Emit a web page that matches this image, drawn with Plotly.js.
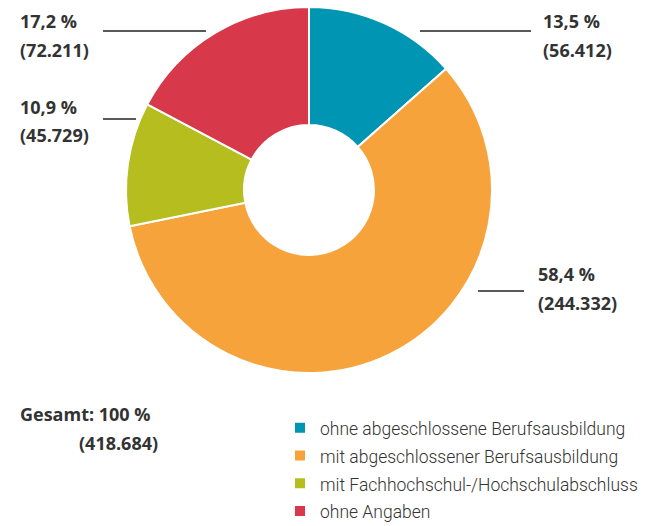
<!DOCTYPE html>
<html><head><meta charset="utf-8">
<script src="https://cdn.plot.ly/plotly-3.0.1.min.js"></script>
<style>html,body{margin:0;padding:0;background:#fff}#chart{width:645px;height:526px}</style>
</head><body><div id="chart"></div>
<script>
const categories = ["ohne abgeschlossene Berufsausbildung","mit abgeschlossener Berufsausbildung","mit Fachhochschul-/Hochschulabschluss","ohne Angaben"];
const counts = [56412, 244332, 45729, 72211];
const percents = [13.5, 58.4, 10.9, 17.2];
const colors = ["#0095B3","#F7A33C","#B5BD1F","#D7384A"];
const totalCount = 418684;
const totalPercent = 100;

function dePct(v){return v.toFixed(1).replace('.',',')+' %';}
function deNum(v){return v.toString().replace(/\B(?=(\d{3})+(?!\d))/g,'.');}

const W=645,H=526;
const px=x=>x/W, py=y=>1-y/H;
const labelFont={family:"Open Sans, sans-serif",size:18,color:"#333333",weight:"bold"};
// label layout: [textX, line1Y, line2Y, lineX0, lineX1, lineY]
const labelPos=[
 [541,21,50,420,531,31],
 [536,274,303,478,524,291],
 [18,107,135,103,136,119],
 [18,21,50,103,206,31]
];
const annotations=[],shapes=[];
labelPos.forEach((p,i)=>{
 annotations.push({xref:'paper',yref:'paper',x:px(p[0]),y:py(p[1]),xanchor:'left',yanchor:'middle',showarrow:false,text:'<b>'+dePct(percents[i])+'</b>',font:labelFont});
 annotations.push({xref:'paper',yref:'paper',x:px(p[0]),y:py(p[2]),xanchor:'left',yanchor:'middle',showarrow:false,text:'<b>('+deNum(counts[i])+')</b>',font:labelFont});
 shapes.push({type:'line',xref:'paper',yref:'paper',x0:px(p[3]),x1:px(p[4]),y0:py(p[5]),y1:py(p[5]),line:{color:'#222',width:1.3}});
});
annotations.push({xref:'paper',yref:'paper',x:px(18),y:py(414),xanchor:'left',yanchor:'middle',showarrow:false,text:'<b>Gesamt: '+totalPercent+' %</b>',font:labelFont});
annotations.push({xref:'paper',yref:'paper',x:px(77),y:py(443),xanchor:'left',yanchor:'middle',showarrow:false,text:'<b>('+deNum(totalCount)+')</b>',font:labelFont});

const legendLabels = categories.map(c=>'<span style="font-size:17.5px">'+c+'</span>');

const cx=309,cy=190,r=183;
const data=[{type:'pie',labels:legendLabels,values:counts,sort:false,direction:'clockwise',rotation:0,hole:0.355,
 marker:{colors:colors,line:{color:'#ffffff',width:2}},textinfo:'none',hoverinfo:'none',
 domain:{x:[px(cx-r),px(cx+r)],y:[py(cy+r),py(cy-r)]}}];
const layout={width:W,height:H,margin:{l:0,r:0,t:0,b:0,autoexpand:false},paper_bgcolor:'#fff',
 showlegend:true,
 legend:{x:px(285),y:py(409),xanchor:'left',yanchor:'top',indentation:-5,font:{family:"Roboto, sans-serif",size:19,color:'#333',weight:300},bgcolor:'rgba(0,0,0,0)',itemwidth:30},
 annotations:annotations,shapes:shapes};
Plotly.newPlot('chart',data,layout,{displayModeBar:false,staticPlot:true});
</script></body></html>
